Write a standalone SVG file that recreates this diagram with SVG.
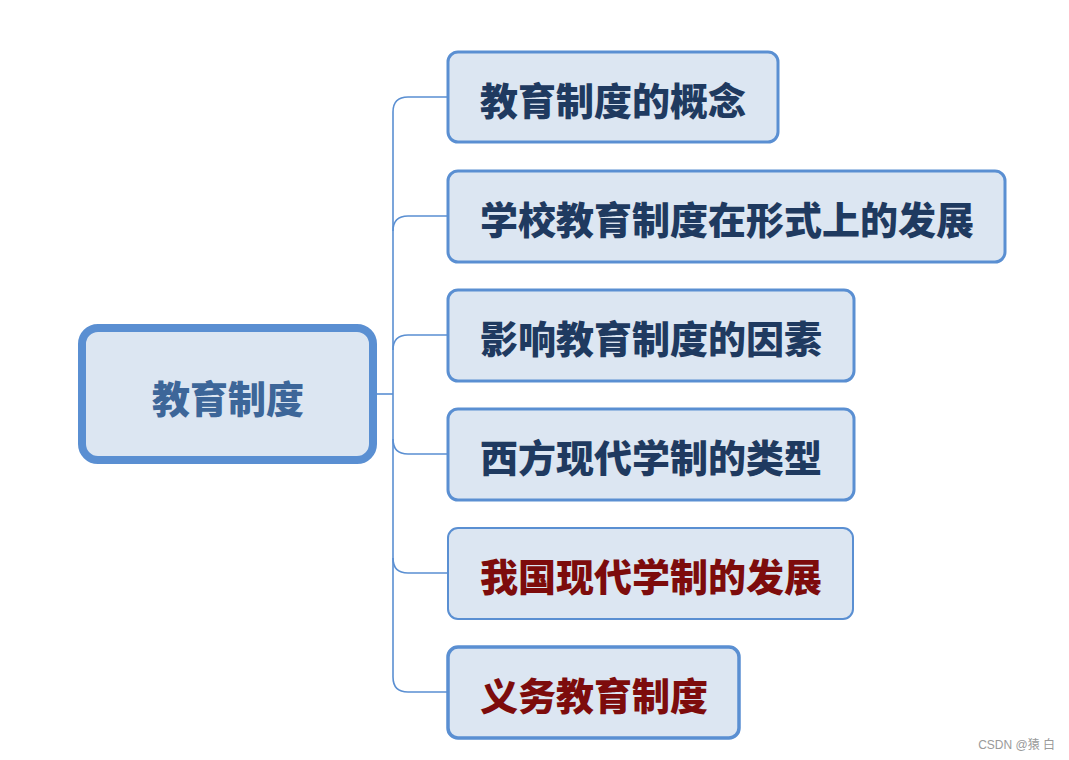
<svg xmlns="http://www.w3.org/2000/svg" width="1069" height="760" viewBox="0 0 1069 760">
<style>
.box{fill:#dce6f2;stroke:#5a8fd2;stroke-width:3}
.t{font-family:"Noto Sans CJK SC","Noto Sans",sans-serif;font-weight:900;font-size:38px;dominant-baseline:central}
.blue{fill:#1f3a60}
.red{fill:#7d0c0c}
.conn{fill:none;stroke:#5a8fd2;stroke-width:1.6}
</style>
<rect width="1069" height="760" fill="#ffffff"/>
<g id="connectors">
<path class="conn" d="M377 394 H393"/>
<path class="conn" d="M448 97 H408 Q393 97 393 112 V677 Q393 692 408 692 H448"/>
<path class="conn" d="M448 216 H408 Q393 216 393 231"/>
<path class="conn" d="M448 335 H408 Q393 335 393 350"/>
<path class="conn" d="M448 454 H408 Q393 454 393 439"/>
<path class="conn" d="M448 573 H408 Q393 573 393 558"/>
</g>
<g id="root">
<rect x="82" y="328" width="291" height="132" rx="16" fill="#dce6f2" stroke="#5a8fd2" stroke-width="8"/>
<text class="t" x="228" y="396" text-anchor="middle" fill="#3d6699">教育制度</text>
</g>
<g id="n1">
<rect class="box" x="448" y="52" width="330" height="90" rx="10"/>
<text class="t blue" x="480" y="98">教育制度的概念</text>
</g>
<g id="n2">
<rect class="box" x="448" y="171" width="557" height="91" rx="10"/>
<text class="t blue" x="480" y="217">学校教育制度在形式上的发展</text>
</g>
<g id="n3">
<rect class="box" x="448" y="290" width="406" height="91" rx="10"/>
<text class="t blue" x="480" y="336">影响教育制度的因素</text>
</g>
<g id="n4">
<rect class="box" x="448" y="409" width="406" height="91" rx="10"/>
<text class="t blue" x="480" y="455">西方现代学制的类型</text>
</g>
<g id="n5">
<rect class="box" x="448" y="528" width="405" height="91" rx="10" style="stroke-width:2"/>
<text class="t red" x="480" y="574">我国现代学制的发展</text>
</g>
<g id="n6">
<rect class="box" x="448" y="647" width="291" height="91" rx="10" style="stroke-width:3.5"/>
<text class="t red" x="480" y="693">义务教育制度</text>
</g>
<text x="1055" y="749" text-anchor="end" font-family="'Liberation Sans','Noto Sans CJK SC',sans-serif" font-size="12" fill="#9a9a9a">CSDN @猿 白</text>
</svg>
